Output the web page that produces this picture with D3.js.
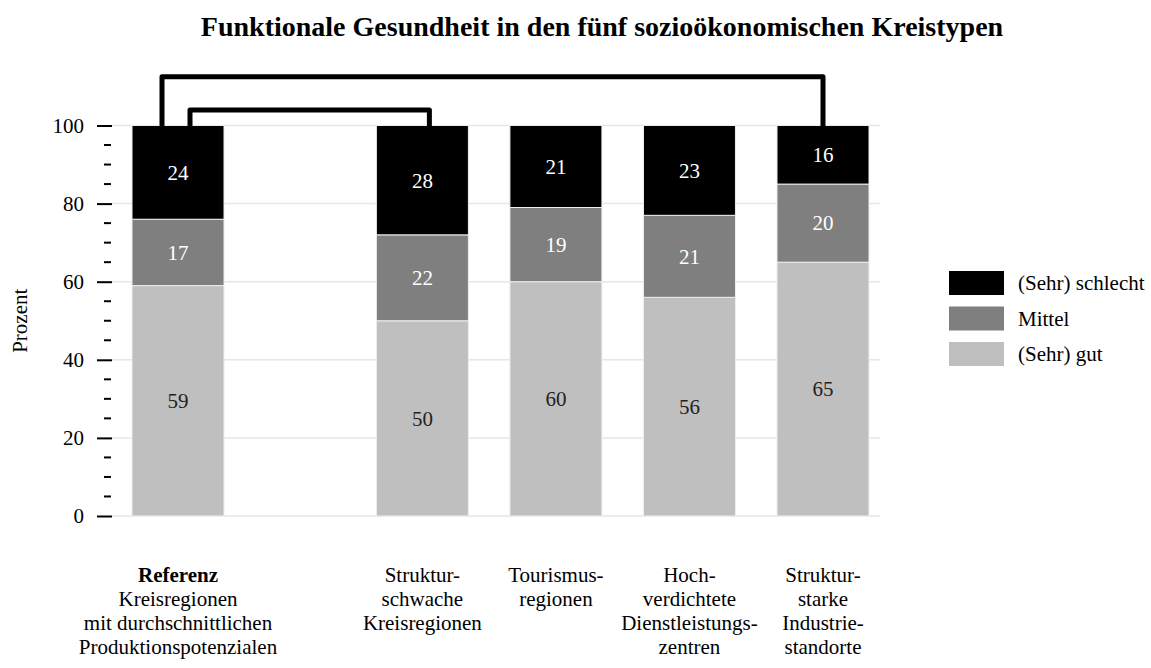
<!DOCTYPE html>
<html>
<head>
<meta charset="utf-8">
<script src="https://cdn.jsdelivr.net/npm/d3@7"></script>
<style>
  body { margin: 0; background: #fff; }
  svg text { font-family: "Liberation Serif", "Times New Roman", serif !important; }
</style>
</head>
<body>
<div id="chart"></div>
<script>
// categories, each label split into lines
const categories = ["Referenz", "Strukturschwache", "Tourismusregionen", "Hochverdichtete", "Strukturstarke"];
const categoryLines = [
  ["Referenz", "Kreisregionen", "mit durchschnittlichen", "Produktionspotenzialen"],
  ["Struktur-", "schwache", "Kreisregionen"],
  ["Tourismus-", "regionen"],
  ["Hoch-", "verdichtete", "Dienstleistungs-", "zentren"],
  ["Struktur-", "starke", "Industrie-", "standorte"]
];

// series values (percent)
const gut      = [59, 50, 60, 56, 65];
const mittel   = [17, 22, 19, 21, 20];
const schlecht = [24, 28, 21, 23, 16];

const seriesNames = ["(Sehr) gut", "Mittel", "(Sehr) schlecht"];
const seriesColors = ["#bfbfbf", "#7f7f7f", "#000000"];
const yTicks = [0, 20, 40, 60, 80, 100];

function draw() {
  const width = 1151, height = 668;
  const fs = "21px";

  const svg = d3.select("#chart").append("svg")
      .attr("width", width)
      .attr("height", height)
      .attr("font-family", "Liberation Serif, serif");

  // title
  svg.append("text")
    .attr("x", 602)
    .attr("y", 36)
    .attr("text-anchor", "middle")
    .attr("font-size", "28px")
    .attr("font-weight", "bold")
    .text("Funktionale Gesundheit in den fünf sozioökonomischen Kreistypen");

  const y = d3.scaleLinear().domain([0, 100]).range([516, 125.5]);

  // the reference group stands apart, so slot 0 is followed by a gap
  const slot = i => i === 0 ? 0 : i + 0.83;
  const x = d3.scaleLinear().domain([0, slot(4)]).range([178, 823]);
  const barW = 92;

  // grid
  svg.append("g")
    .selectAll("line")
    .data(yTicks)
    .join("line")
      .attr("x1", 112).attr("x2", 880)
      .attr("y1", d => y(d)).attr("y2", d => y(d))
      .attr("stroke", "#e6e6e6")
      .attr("stroke-width", 1.5);

  // y axis: major ticks with labels, minor ticks every 5
  const axis = svg.append("g")
    .attr("transform", "translate(112,0)")
    .call(d3.axisLeft(y).tickValues(yTicks).tickSize(15).tickPadding(13));
  axis.attr("font-family", null).attr("font-size", null);
  axis.select(".domain").remove();
  axis.selectAll(".tick line").attr("stroke", "#000").attr("stroke-width", 2);
  axis.selectAll(".tick text")
    .attr("font-size", fs)
    .attr("fill", "#000");

  svg.append("g")
    .selectAll("line")
    .data(d3.range(0, 101, 5).filter(v => v % 20 !== 0))
    .join("line")
      .attr("x1", 104).attr("x2", 111)
      .attr("y1", d => y(d)).attr("y2", d => y(d))
      .attr("stroke", "#000")
      .attr("stroke-width", 2);

  svg.append("text")
    .attr("transform", `translate(27,${y(50)}) rotate(-90)`)
    .attr("text-anchor", "middle")
    .attr("font-size", fs)
    .text("Prozent");

  // stacked bars
  const rows = categories.map((c, i) => ({cat: i, g: gut[i], m: mittel[i], s: schlecht[i]}));
  const stacked = d3.stack().keys(["g", "m", "s"])(rows);

  const layers = svg.append("g")
    .selectAll("g")
    .data(stacked)
    .join("g")
      .attr("fill", (d, i) => seriesColors[i]);

  layers.selectAll("rect")
    .data(d => d)
    .join("rect")
      .attr("x", d => x(slot(d.data.cat)) - barW / 2)
      .attr("width", barW)
      .attr("y", d => y(Math.min(d[1], 100)))
      .attr("height", d => y(d[0]) - y(Math.min(d[1], 100)))
      .attr("stroke", "#eeeeee")
      .attr("stroke-width", 1);

  layers.selectAll("text")
    .data((d, i) => d.map(p => ({p, i, v: p[1] - p[0]})))
    .join("text")
      .attr("x", d => x(slot(d.p.data.cat)))
      .attr("y", d => y((d.p[0] + Math.min(d.p[1], 100)) / 2))
      .attr("dy", "0.35em")
      .attr("text-anchor", "middle")
      .attr("font-size", fs)
      .attr("fill", d => d.i === 0 ? "#222" : "#fff")
      .text(d => d.v);

  // significance brackets
  const brackets = svg.append("g")
    .attr("fill", "none")
    .attr("stroke", "#000")
    .attr("stroke-width", 5)
    .attr("stroke-linejoin", "round")
    .attr("stroke-linecap", "round");
  brackets.append("path")
    .attr("d", `M${x(slot(0)) - 16},${y(100)} V${y(112.5)} H${x(slot(4))} V${y(100)}`);
  brackets.append("path")
    .attr("d", `M${x(slot(0)) + 12},${y(100)} V${y(104)} H${x(slot(1)) + 7} V${y(100)}`);

  // category labels
  const labels = svg.append("g")
    .selectAll("text")
    .data(categoryLines)
    .join("text")
      .attr("text-anchor", "middle")
      .attr("font-size", fs)
      .attr("y", 582);
  labels.selectAll("tspan")
    .data((lines, i) => lines.map((t, k) => ({t, k, i})))
    .join("tspan")
      .attr("x", d => x(slot(d.i)))
      .attr("dy", d => d.k === 0 ? 0 : 24)
      .attr("font-weight", d => d.i === 0 && d.k === 0 ? "bold" : null)
      .text(d => d.t);

  // legend, dark series first
  const legend = svg.append("g")
    .selectAll("g")
    .data(seriesNames.map((n, i) => ({n, c: seriesColors[i]})).reverse())
    .join("g")
      .attr("transform", (d, i) => `translate(949,${271 + i * 35.5})`);
  legend.append("rect")
    .attr("width", 55).attr("height", 24)
    .attr("fill", d => d.c);
  legend.append("text")
    .attr("x", 69).attr("y", 12)
    .attr("dy", "0.35em")
    .attr("font-size", fs)
    .text(d => d.n);
}

draw();
</script>
</body>
</html>
